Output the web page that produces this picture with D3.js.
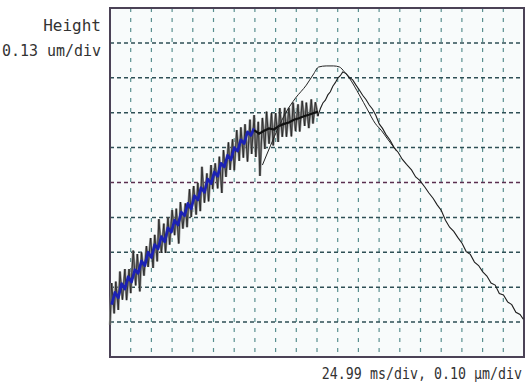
<!DOCTYPE html>
<html>
<head>
<meta charset="utf-8">
<script src="https://cdn.jsdelivr.net/npm/d3@7"></script>
<style>
  body { margin: 0; background: #fff; }
  text { font-family: "DejaVu Sans Mono", monospace; fill: #333; }
</style>
</head>
<body>
<div id="chart"></div>
<script>
// scope settings
const msPerDiv = 24.99;
const umPerDiv = 0.10;
const xDivs = 20;
const yDivs = 10;

// raw approach trace [time ms, height um]
const rawApproach = [
  [0,0.092],[2,0.212],[5,0.125],[7,0.216],[10,0.135],[12,0.245],[15,0.164],[18,0.252],[20,0.163],[23,0.252],
  [25,0.183],[28,0.305],[31,0.205],[33,0.295],[36,0.188],[38,0.300],[41,0.233],[44,0.318],[46,0.258],[49,0.341],
  [52,0.255],[54,0.350],[57,0.274],[59,0.395],[62,0.298],[65,0.382],[67,0.298],[70,0.401],[72,0.322],[75,0.421],
  [78,0.349],[80,0.425],[83,0.325],[85,0.444],[88,0.368],[91,0.440],[93,0.372],[96,0.481],[98,0.401],[101,0.490],
  [104,0.408],[106,0.499],[109,0.418],[111,0.545],[114,0.442],[117,0.526],[119,0.446],[122,0.550],[124,0.481],[127,0.555],
  [130,0.483],[132,0.574],[135,0.470],[137,0.593],[140,0.516],[143,0.615],[145,0.536],[148,0.624],[150,0.535],[153,0.650],
  [156,0.562],[158,0.658],[161,0.571],[163,0.667],[166,0.560],[169,0.680],[171,0.582],[174,0.693],[176,0.573],[179,0.674],
  [181,0.519],[184,0.685],[187,0.596],[189,0.703],[192,0.611],[195,0.699],[197,0.606],[200,0.699],[203,0.616],[205,0.713],
  [208,0.631],[211,0.714],[213,0.631],[216,0.714],[219,0.632],[221,0.729],[224,0.647],[227,0.724],[229,0.646],[232,0.734],
  [235,0.662],[237,0.729],[240,0.656],[243,0.738],[245,0.669],[248,0.730],[251,0.690]
];

// contact + retract part of the same trace
const rawRetract = [
  [251,0.690],[254,0.712],[257,0.728],[260,0.736],[263,0.751],[266,0.760],[269,0.776],[272,0.786],[275,0.799],[278,0.806],
  [281,0.817],[285,0.812],[289,0.801],[293,0.794],[297,0.779],[301,0.765],[305,0.750],[309,0.738],[313,0.722],[317,0.710],
  [321,0.692],[325,0.668],[329,0.655],[333,0.638],[338,0.622],[343,0.600],[348,0.586],[353,0.566],[358,0.552],[364,0.536],
  [369,0.516],[374,0.506],[380,0.487],[385,0.470],[390,0.455],[395,0.436],[400,0.420],[405,0.392],[410,0.372],[415,0.360],
  [420,0.342],[425,0.326],[430,0.302],[435,0.294],[440,0.272],[445,0.262],[450,0.244],[455,0.232],[460,0.212],[465,0.206],
  [470,0.182],[475,0.178],[480,0.158],[485,0.150],[490,0.128],[495,0.122],[499,0.108]
];

// filtered approach (blue)
const filteredBlue = [
  [2,0.150],[6,0.185],[10,0.170],[14,0.210],[18,0.195],[22,0.230],[26,0.215],[30,0.250],[34,0.240],[38,0.275],
  [42,0.262],[46,0.300],[50,0.285],[54,0.322],[58,0.310],[62,0.345],[66,0.330],[70,0.370],[74,0.358],[78,0.392],
  [82,0.378],[86,0.415],[90,0.405],[94,0.440],[98,0.425],[102,0.462],[106,0.450],[110,0.485],[114,0.472],[118,0.510],
  [122,0.497],[126,0.530],[130,0.518],[134,0.555],[138,0.545],[142,0.578],[146,0.565],[150,0.600],[154,0.590],[158,0.622],
  [162,0.612],[166,0.645],[170,0.635],[174,0.655]
];

// filtered, continued in black
const filteredBlack = [
  [174,0.650],[180,0.640],[186,0.648],[192,0.655],[198,0.652],[204,0.662],[210,0.668],[216,0.672],[222,0.680],[228,0.684],
  [234,0.690],[240,0.694],[246,0.699],[251,0.703]
];

// smooth reference curve
const smoothCurve = [
  [184,0.550],[194,0.607],[203,0.656],[212,0.699],[224,0.742],[237,0.779],[245,0.808],[252,0.831],[261,0.834],[270,0.834],
  [277,0.831],[283,0.817],[289,0.799],[301,0.751],[311,0.708],[320,0.670],[328,0.648],[335,0.625],[346,0.590]
];

const width = 532, height = 387;
const plotLeft = 110, plotRight = 524, plotTop = 8, plotBottom = 357;

const svg = d3.select("#chart")
  .append("svg")
    .attr("width", width)
    .attr("height", height);

const x = d3.scaleLinear().domain([0, xDivs * msPerDiv]).range([plotLeft, plotRight]);
const y = d3.scaleLinear().domain([0, yDivs * umPerDiv]).range([plotBottom, plotTop]);

// plot background
svg.append("rect")
  .attr("x", plotLeft).attr("y", plotTop)
  .attr("width", plotRight - plotLeft).attr("height", plotBottom - plotTop)
  .attr("fill", "#f8fbfb");

// grid
const xGrid = d3.range(1, xDivs).map(i => i * msPerDiv);
const yGrid = d3.range(1, yDivs).map(i => i * umPerDiv);

svg.append("g").selectAll("line")
  .data(xGrid)
  .join("line")
    .attr("x1", d => x(d)).attr("x2", d => x(d))
    .attr("y1", plotTop).attr("y2", plotBottom)
    .attr("stroke", "#5a9090")
    .attr("stroke-width", 1.2)
    .attr("stroke-dasharray", "4,6");

svg.append("g").selectAll("line")
  .data(yGrid)
  .join("line")
    .attr("x1", plotLeft).attr("x2", plotRight)
    .attr("y1", d => y(d)).attr("y2", d => y(d))
    .attr("stroke", (d, i) => i == 4 ? "#5a2f4f" : "#2e4f55")
    .attr("stroke-width", 1.5)
    .attr("stroke-dasharray", "4,3");

// frame
svg.append("rect")
  .attr("x", plotLeft).attr("y", plotTop)
  .attr("width", plotRight - plotLeft).attr("height", plotBottom - plotTop)
  .attr("fill", "none")
  .attr("stroke", "#4b4256")
  .attr("stroke-width", 2);

const line = d3.line().x(d => x(d[0])).y(d => y(d[1]));

// noisy trace: grey body with dark edge
svg.append("path").datum(rawApproach)
  .attr("d", line).attr("fill", "none")
  .attr("stroke", "#8a8a8a").attr("stroke-width", 2.4);
svg.append("path").datum(rawApproach)
  .attr("d", line).attr("fill", "none")
  .attr("stroke", "#1e1e1e").attr("stroke-width", 0.8);

svg.append("path").datum(filteredBlue)
  .attr("d", line).attr("fill", "none")
  .attr("stroke", "#1c22b4").attr("stroke-width", 2.8)
  .attr("stroke-linejoin", "round");

svg.append("path").datum(filteredBlack)
  .attr("d", line).attr("fill", "none")
  .attr("stroke", "#111").attr("stroke-width", 2.2);

svg.append("path").datum(smoothCurve)
  .attr("d", d3.line().x(d => x(d[0])).y(d => y(d[1])).curve(d3.curveMonotoneX))
  .attr("fill", "none")
  .attr("stroke", "#222").attr("stroke-width", 1);

svg.append("path").datum(rawRetract)
  .attr("d", line).attr("fill", "none")
  .attr("stroke", "#1e1e1e").attr("stroke-width", 1.1);

// labels
svg.append("text")
  .attr("x", 101).attr("y", 31)
  .attr("text-anchor", "end")
  .attr("font-size", 16)
  .text("Height");

svg.append("text")
  .attr("x", 101).attr("y", 56)
  .attr("text-anchor", "end")
  .attr("font-size", 16)
  .attr("textLength", 99)
  .attr("lengthAdjust", "spacingAndGlyphs")
  .text("0.13 um/div");

// bottom scale note, stretched a bit vertically like the scope font
svg.append("text")
  .attr("transform", "translate(522,379) scale(1,1.2)")
  .attr("text-anchor", "end")
  .attr("font-size", 13.3)
  .text("24.99 ms/div, 0.10 µm/div");
</script>
</body>
</html>
